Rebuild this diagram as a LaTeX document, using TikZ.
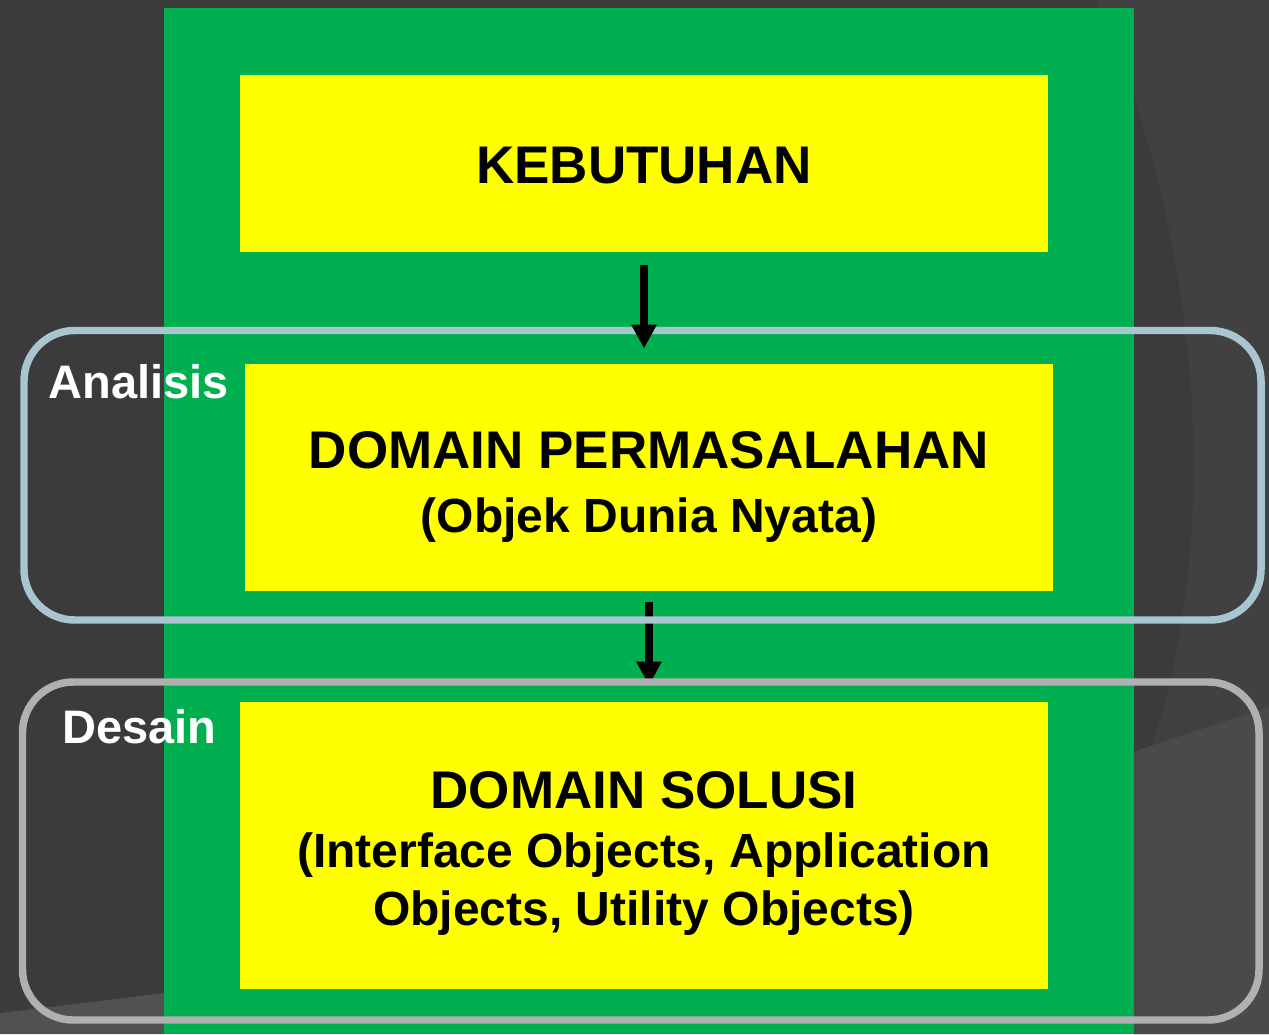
\documentclass[tikz,border=0pt]{standalone}
\usepackage{fontspec}
\setmainfont{Liberation Sans}
\usetikzlibrary{arrows.meta}

\tikzset{every picture/.style={line width=0.75pt}}
\tikzset{
  kotak/.style={fill={rgb, 255:red, 255; green, 255; blue, 0 }, draw=none, inner sep=0pt, minimum width=606pt},
  judul/.style={anchor=base, inner sep=0pt, font=\bfseries\fontsize{39.75}{45}\selectfont},
  subjudul/.style={anchor=base, inner sep=0pt, font=\bfseries\fontsize{36}{42}\selectfont},
  tahap/.style={anchor=base west, inner sep=0pt, text=white, font=\bfseries\fontsize{35.25}{40}\selectfont},
  panah/.style={line width=5.6pt, -{Triangle[length=18pt,width=18pt]}},
  bingkai/.style={line width=5.6pt, rounded corners=38pt},
}

\begin{document}
\begin{tikzpicture}[x=0.75pt,y=0.75pt,yscale=-1,xscale=1]
\useasboundingbox (0,0) rectangle (1269,1034);

%Shape: Background
\fill [fill={rgb, 255:red, 59; green, 59; blue, 59 }] (0,0) rectangle (1269,1034);
\fill [fill={rgb, 255:red, 65; green, 65; blue, 65 }] (1097,0) .. controls (1205,250) and (1230,560) .. (1133,800) -- (1133,1034) -- (1269,1034) -- (1269,0) -- cycle ;
\fill [fill={rgb, 255:red, 74; green, 74; blue, 74 }] (1133,752) -- (1269,707) -- (1269,1034) -- (1133,1034) -- cycle ;
\fill [fill={rgb, 255:red, 81; green, 81; blue, 81 }] (0,1013) -- (165,993) -- (165,1034) -- (0,1034) -- cycle ;
%Shape: Rectangle
\fill [fill={rgb, 255:red, 0; green, 176; blue, 80 }] (164,8) rectangle (1134,1034);

%Shape: Rectangle
\node [kotak, minimum height=132.75pt] (keb) at (644,163.5) {};
%Shape: Rectangle
\node [kotak, minimum height=170.25pt] (masalah) at (649,477.5) {};
%Shape: Rectangle
\node [kotak, minimum height=215.25pt] (solusi) at (644,845.5) {};

% Text Node
\node [judul] (kebtxt) at (644,184) {KEBUTUHAN};
% Text Node
\node [judul] (masalahtxt) at (649,468) {DOMAIN PERMASALAHAN};
% Text Node
\node [subjudul] (masalahsub) at (649,532) {(Objek Dunia Nyata)};
% Text Node
\node [judul] (solusitxt) at (644,808) {DOMAIN SOLUSI};
% Text Node
\node [subjudul] (solusisub) at (644,867) {(Interface Objects, Application};
% Text Node
\node [subjudul] (solusisubb) at (644,925) {Objects, Utility Objects)};

%Straight Lines
\draw [panah, shorten <=7.5pt, shorten >=12pt] (masalah.south) -- (masalah.south |- solusi.north);

%Shape: Rounded Rectangle
\draw [bingkai, draw={rgb, 255:red, 168; green, 197; blue, 208 }] (24,330.5) rectangle (1261,620);
%Shape: Rounded Rectangle
\draw [bingkai, draw={rgb, 255:red, 176; green, 176; blue, 176 }] (22.5,682) rectangle (1259,1020);

% Text Node
\node [tahap] (analisis) at (48,398) {Analisis};
% Text Node
\node [tahap] (desain) at (62,743) {Desain};

%Straight Lines
\draw [panah, shorten <=9pt, shorten >=11.25pt] (keb.south) -- (keb.south |- masalah.north);

\end{tikzpicture}
\end{document}
